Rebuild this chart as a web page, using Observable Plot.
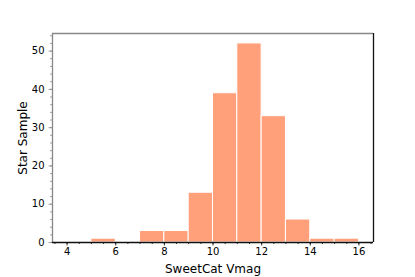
<!DOCTYPE html>
<html>
<head>
<meta charset="utf-8">
<script src="https://cdn.jsdelivr.net/npm/d3@7"></script>
<script src="https://cdn.jsdelivr.net/npm/@observablehq/plot@0.6"></script>
<style>
html, body { margin: 0; padding: 0; background: #fff; }
svg { display: block; }
</style>
</head>
<body>
<div id="chart"></div>
<script>
// Histogram bins of SweetCat Vmag (bin width 1)
const binStarts = [4, 5, 6, 7, 8, 9, 10, 11, 12, 13, 14, 15];
const binEnds   = [5, 6, 7, 8, 9, 10, 11, 12, 13, 14, 15, 16];
const counts    = [0, 1, 0, 3, 3, 13, 39, 52, 33, 6, 1, 1];
const xMajorTicks = [4, 6, 8, 10, 12, 14, 16];
const xMinorTicks = d3.range(3.5, 16.51, 0.5);
const yMajorTicks = [0, 10, 20, 30, 40, 50];
const yMinorTicks = d3.range(0, 54.1, 2);
const xLabel = "SweetCat Vmag";
const yLabel = "Star Sample";

const bins = binStarts.map((s, i) => ({x1: s, x2: binEnds[i], y: counts[i]}));
const xDomain = [3.4, 16.6];
const yDomain = [0, 54.6];

const chart = Plot.plot({
  width: 415,
  height: 277,
  marginLeft: 52,
  marginRight: 42,
  marginTop: 33,
  marginBottom: 35,
  style: {fontFamily: "DejaVu Sans", fontSize: "10px", background: "#fff", color: "#000"},
  x: {domain: xDomain},
  y: {domain: yDomain},
  marks: [
    Plot.rectY(bins, {x1: "x1", x2: "x2", y: "y", fill: "#FFA07A", stroke: "#fff", strokeWidth: 1}),
    Plot.axisX({ticks: xMinorTicks, tickSize: 2, text: null, label: null, stroke: "#000", strokeWidth: 0.8}),
    Plot.axisX({ticks: xMajorTicks, tickSize: 3.5, tickPadding: 2, stroke: "#000", fill: "#000", strokeWidth: 0.8, label: null}),
    Plot.axisY({ticks: yMinorTicks, tickSize: 2, text: null, label: null, stroke: "#888", strokeWidth: 0.8}),
    Plot.axisY({ticks: yMajorTicks, tickSize: 3.5, tickPadding: 4.5, stroke: "#888", fill: "#000", strokeWidth: 0.8, label: null}),
    Plot.ruleY([yDomain[1]], {stroke: "#888", strokeWidth: 1.3}),
    Plot.ruleX([xDomain[0]], {stroke: "#888", strokeWidth: 1.3}),
    Plot.ruleX([xDomain[1]], {stroke: "#111", strokeWidth: 1.3}),
    Plot.ruleY([yDomain[0]], {stroke: "#111", strokeWidth: 1.3}),
    Plot.text([xLabel], {frameAnchor: "bottom", dy: 30, fontSize: 12, fill: "#000", lineAnchor: "bottom", textAnchor: "middle"}),
    Plot.text([yLabel], {frameAnchor: "left", dx: -29.5, rotate: -90, fontSize: 12, fill: "#000", lineAnchor: "middle", textAnchor: "middle"})
  ]
});
document.getElementById("chart").appendChild(chart);
</script>
</body>
</html>
